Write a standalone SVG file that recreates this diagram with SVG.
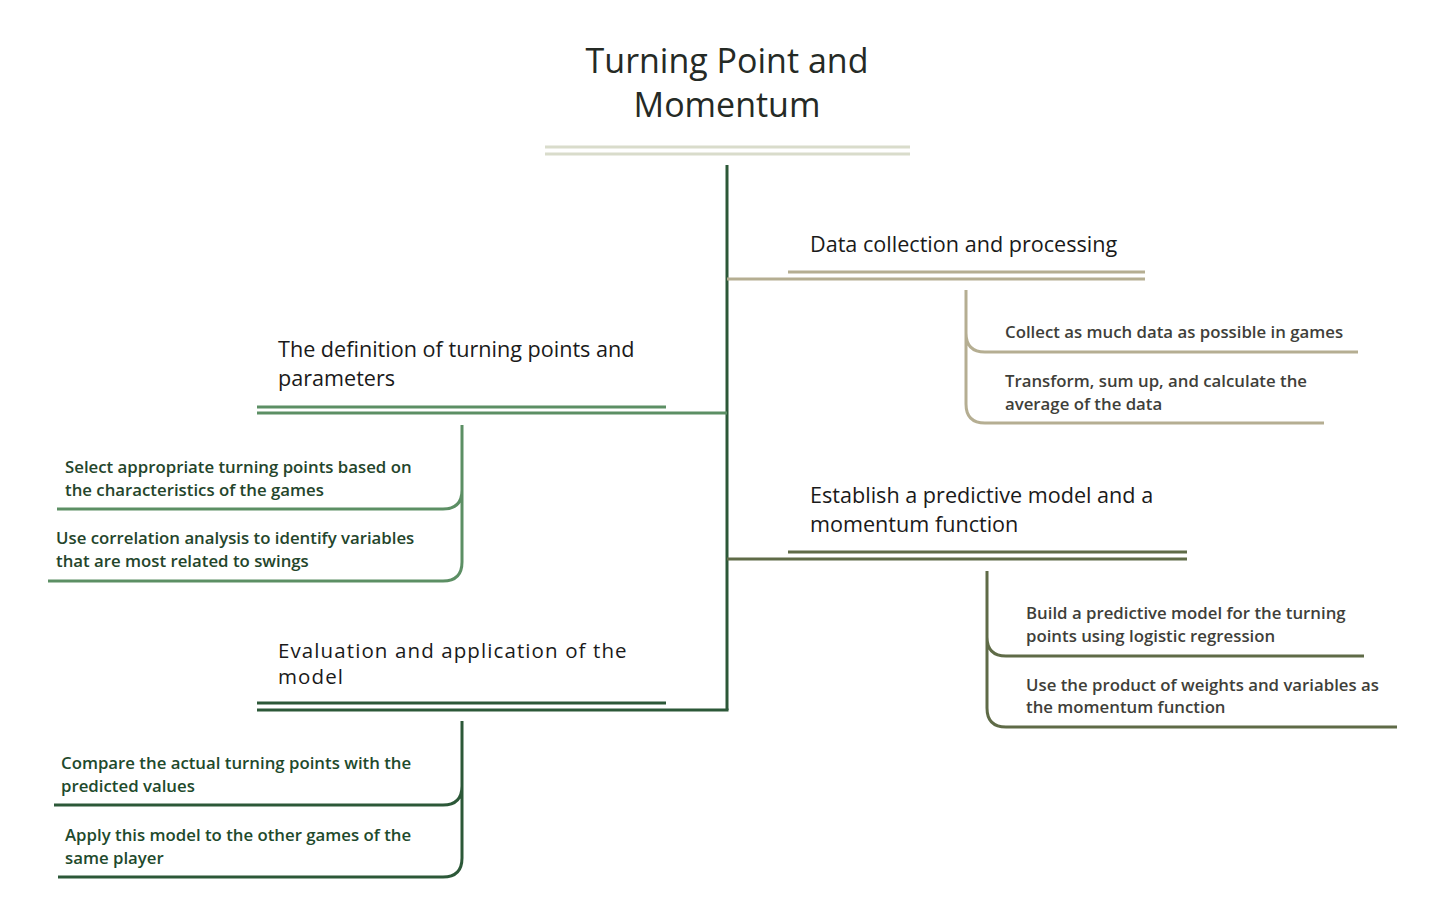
<svg xmlns="http://www.w3.org/2000/svg" width="1445" height="924" viewBox="0 0 1445 924">
<style>
.title{font-family:"Open Sans","Liberation Sans",sans-serif;font-size:34px;fill:#252a25;text-anchor:middle}
.main{font-family:"Open Sans","Liberation Sans",sans-serif;font-size:21.6px;fill:#1a1a1a}
.alt{font-family:"Open Sans","Liberation Sans",sans-serif;font-size:20.5px;fill:#1a1a1a;letter-spacing:1.1px}
.sub{font-family:"Open Sans","Liberation Sans",sans-serif;font-size:16.8px;font-weight:600}
.ln{fill:none;stroke-width:3;stroke-linecap:butt}
.c1{stroke:#b5ae92}.c2{stroke:#5c8f64}.c3{stroke:#5f6b47}.c4{stroke:#2c5838}
</style>
<rect width="1445" height="924" fill="#ffffff"/>
<g id="root">
<text class="title" x="727" y="73">Turning Point and</text>
<text class="title" x="727" y="117">Momentum</text>
<path class="ln" stroke="#d9dccb" d="M545,147H910M545,154H910"/>
</g>
<g id="connectors">
<path class="ln c4" d="M727,165V710"/>
<path class="ln c1" d="M727,279H1145M788,272H1145"/>
<path class="ln c2" d="M727,413H257M666,407H257"/>
<path class="ln c3" d="M727,559H1187M788,552H1187"/>
<path class="ln c4" d="M728.5,710H257M666,703H257"/>
<path class="ln c1" d="M966,290V404Q966,423 985,423H1324M966,333Q966,352 985,352H1358"/>
<path class="ln c2" d="M462,425V562Q462,581 443,581H48M462,490Q462,509 443,509H57"/>
<path class="ln c3" d="M987,571V708Q987,727 1006,727H1397M987,637Q987,656 1006,656H1364"/>
<path class="ln c4" d="M462,721V858Q462,877 443,877H58M462,786Q462,805 443,805H54"/>
</g>
<g id="n1">
<text class="main" x="810" y="252">Data collection and processing</text>
</g>
<g id="n1a"><text class="sub" fill="#3f3f3a" x="1005" y="338">Collect as much data as possible in games</text></g>
<g id="n1b"><text class="sub" fill="#3f3f3a" x="1005" y="387">Transform, sum up, and calculate the</text><text class="sub" fill="#3f3f3a" x="1005" y="410">average of the data</text></g>
<g id="n2">
<text class="main" x="278" y="357">The definition of turning points and</text>
<text class="main" x="278" y="386">parameters</text>
</g>
<g id="n2a"><text class="sub" fill="#24452b" x="65" y="473">Select appropriate turning points based on</text><text class="sub" fill="#24452b" x="65" y="496">the characteristics of the games</text></g>
<g id="n2b"><text class="sub" fill="#24452b" x="56" y="544">Use correlation analysis to identify variables</text><text class="sub" fill="#24452b" x="56" y="567">that are most related to swings</text></g>
<g id="n3">
<text class="main" x="810" y="503">Establish a predictive model and a</text>
<text class="main" x="810" y="532">momentum function</text>
</g>
<g id="n3a"><text class="sub" fill="#3f3f3a" x="1026" y="619">Build a predictive model for the turning</text><text class="sub" fill="#3f3f3a" x="1026" y="642">points using logistic regression</text></g>
<g id="n3b"><text class="sub" fill="#3f3f3a" x="1026" y="691">Use the product of weights and variables as</text><text class="sub" fill="#3f3f3a" x="1026" y="713">the momentum function</text></g>
<g id="n4">
<text class="alt" x="278" y="658">Evaluation and application of the</text>
<text class="alt" x="278" y="684">model</text>
</g>
<g id="n4a"><text class="sub" fill="#1e4a2c" x="61" y="769">Compare the actual turning points with the</text><text class="sub" fill="#1e4a2c" x="61" y="792">predicted values</text></g>
<g id="n4b"><text class="sub" fill="#1e4a2c" x="65" y="841">Apply this model to the other games of the</text><text class="sub" fill="#1e4a2c" x="65" y="864">same player</text></g>
</svg>
